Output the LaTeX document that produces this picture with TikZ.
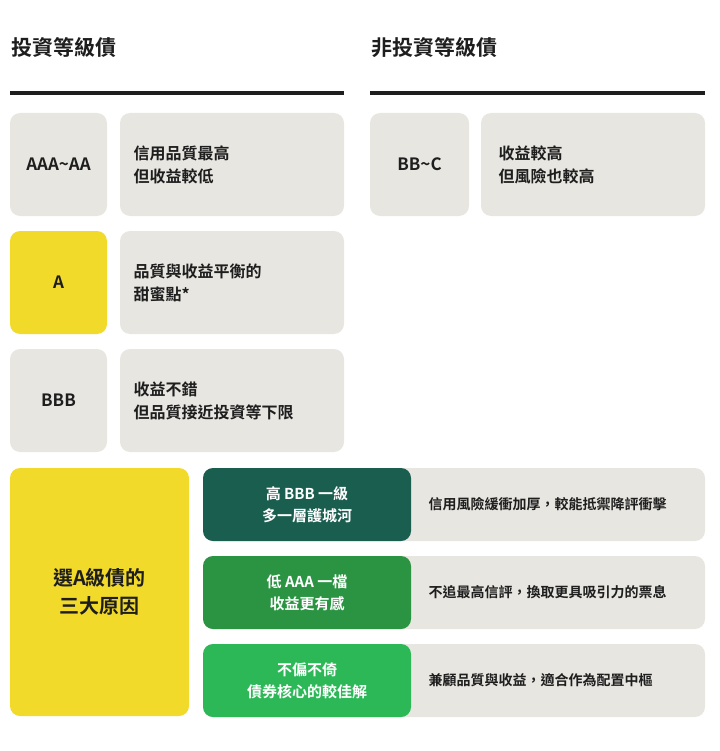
\documentclass[tikz,border=0pt]{standalone}
\usepackage{fontspec}
\setmainfont{Noto Sans CJK TC Bold}
\definecolor{gr}{HTML}{E8E6E1}
\definecolor{yl}{HTML}{F2DA2A}
\definecolor{g1}{HTML}{1A5E50}
\definecolor{g2}{HTML}{2A9442}
\definecolor{g3}{HTML}{2DB858}
\definecolor{tx}{HTML}{1E1E1E}
\begin{document}
\begin{tikzpicture}[x=1pt,y=-1pt,
  bx/.style={rounded corners=10pt},
  lbl/.style={font=\fontsize{17}{20}\selectfont,text=tx,align=center},
  dsc/.style={font=\fontsize{16}{23}\selectfont,text=tx,align=left,anchor=west},
  wt/.style={font=\fontsize{15}{22}\selectfont,text=white,align=center},
  sm/.style={font=\fontsize{14}{18}\selectfont,text=tx,anchor=west}]
\useasboundingbox (0,0) rectangle (719,751);
\node[anchor=west,font=\fontsize{21}{24}\selectfont,text=tx] (h1) at (8,48) {投資等級債};
\node[anchor=west,font=\fontsize{21}{24}\selectfont,text=tx] (h2) at (368,48) {非投資等級債};
\draw[line width=4pt,tx] (10,93) -- (344,93);
\draw[line width=4pt,tx] (370,93) -- (705,93);
% rows
\foreach \y/\col/\lab/\txt [count=\i] in {113/gr/AAA\textasciitilde AA/{信用品質最高\\但收益較低},231/yl/A/{品質與收益平衡的\\甜蜜點*},349/gr/BBB/{收益不錯\\但品質接近投資等下限}}{
  \fill[\col,bx] (10,\y) rectangle (107,\y+103);
  \node[lbl] (l\i) at (58.5,\y+51.5) {\lab};
  \fill[gr,bx] (120,\y) rectangle (344,\y+103);
  \node[dsc] (d\i) at (130,\y+51.5) {\txt};
}
\fill[gr,bx] (370,113) rectangle (469,216);
\node[lbl] (r1) at (419.5,164.5) {BB\textasciitilde C};
\fill[gr,bx] (481,113) rectangle (705,216);
\node[dsc] (r2) at (495,164.5) {收益較高\\但風險也較高};
% bottom
\fill[yl,bx] (10,468) rectangle (189,716);
\node[font=\fontsize{20}{28}\selectfont,text=tx,align=center] (why) at (99.5,592) {選A級債的\\三大原因};
\foreach \y/\col/\t/\d [count=\i] in {468/g1/{高 BBB 一級\\多一層護城河}/信用風險緩衝加厚，較能抵禦降評衝擊,
  556/g2/{低 AAA 一檔\\收益更有感}/不追最高信評，換取更具吸引力的票息,
  644/g3/{不偏不倚\\債券核心的較佳解}/兼顧品質與收益，適合作為配置中樞}{
  \fill[gr,bx] (203,\y) rectangle (705,\y+73);
  \fill[\col,bx] (203,\y) rectangle (411,\y+73);
  \node[wt] (g\i) at (307,\y+36.5) {\t};
  \node[sm] (s\i) at (425,\y+36.5) {\d};
}
\end{tikzpicture}
\end{document}
